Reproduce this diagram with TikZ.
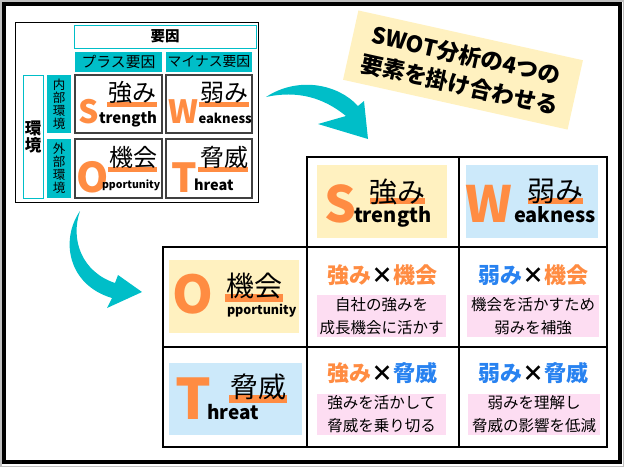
\documentclass[tikz,border=0pt]{standalone}
\usepackage{fontspec}
\setmainfont{Noto Sans CJK JP}
\definecolor{tealc}{RGB}{0,190,200}
\definecolor{orangec}{RGB}{255,140,66}
\definecolor{bluec}{RGB}{40,130,240}
\definecolor{yelc}{RGB}{255,241,192}
\definecolor{lbluec}{RGB}{204,233,250}
\definecolor{pinkc}{RGB}{253,221,242}
\newcommand\fsz[1]{\fontsize{#1}{#1}\selectfont}
\newcommand\fszl[2]{\fontsize{#1}{#2}\selectfont}
\begin{document}
\begin{tikzpicture}[x=1pt,y=-1pt,
  every node/.style={inner sep=0pt,outer sep=0pt},
  rct/.style n args={2}{minimum width=#1,minimum height=#2,anchor=north west},
  smcell/.style={draw=black!75,line width=1.2pt},
  gcell/.style={draw=black,line width=2.5pt},
  ulbar/.style={fill=orangec},
  big/.style={font=\bfseries\fsz{#1},text=orangec,anchor=base west},
  eng/.style={font=\bfseries\fsz{#1},anchor=base west},
  jpl/.style={font=\fsz{#1}},
  ttlc/.style={font=\bfseries\fsz{22}},
  pinkbox/.style={fill=pinkc,align=center,font=\fszl{15.5}{23}}
]
\useasboundingbox (0,0) rectangle (624,467);
% frame
\draw[black!25, line width=1.5pt] (0.75,0.75) rectangle (623.25,466.25);
\draw[line width=4pt] (3.7,3.7) rectangle (620,462);

% ---------- small table ----------
\node[draw=black, line width=0.9pt, rct={243pt}{180pt}] (smt) at (15,22) {};
\node[draw=tealc, line width=1pt, rct={182pt}{23pt}, font=\bfseries\fsz{14.5}] (yoin) at (74,25) {要因};
\node[fill=tealc, rct={87pt}{20pt}, font=\fsz{14.8}] (plus) at (75,52) {プラス要因};
\node[fill=tealc, rct={86pt}{20pt}, font=\fsz{13.8}] (minus) at (166,52) {マイナス要因};
\node[draw=tealc, line width=1pt, rct={20pt}{123pt}] (kankyo) at (23,75) {};
\node[font=\bfseries\fszl{16.5}{17}, align=center] (kankyoT) at (33,137) {環\\境};
\node[fill=tealc, rct={24pt}{58pt}] (naibu) at (47,75) {};
\node[font=\fszl{12.5}{13}, align=center] (naibuT) at (naibu.center) {内\\部\\環\\境};
\node[fill=tealc, rct={24pt}{59pt}] (gaibu) at (47,139) {};
\node[font=\fszl{12.5}{13}, align=center] (gaibuT) at (gaibu.center) {外\\部\\環\\境};

\node[smcell, rct={87pt}{58pt}] (sS) at (75,75) {};
\node[ulbar, rct={50pt}{5pt}] (sSu) at (107,102) {};
\node[jpl=24] (sSj) at (132,92.5) {強み};
\node[big=32] (sSl) at (78,123) {S};
\node[eng=15] (sSe) at (99,123) {trength};

\node[smcell, rct={86pt}{58pt}] (sW) at (166,75) {};
\node[ulbar, rct={50pt}{5pt}] (sWu) at (199,102) {};
\node[jpl=24] (sWj) at (224,92.5) {弱み};
\node[big=32] (sWl) at (168,123) {W};
\node[eng=13] (sWe) at (198.5,123) {eakness};

\node[smcell, rct={87pt}{59pt}] (sO) at (75,139) {};
\node[ulbar, rct={49pt}{5pt}] (sOu) at (108,167) {};
\node[jpl=24] (sOj) at (133,157) {機会};
\node[big=41] (sOl) at (76,192) {O};
\node[eng=10.5] (sOe) at (102,188) {pportunity};

\node[smcell, rct={86pt}{59pt}] (sT) at (166,139) {};
\node[ulbar, rct={50pt}{5pt}] (sTu) at (198,167) {};
\node[jpl=24] (sTj) at (224,157) {脅威};
\node[big=40] (sTl) at (171,192) {T};
\node[eng=14.5] (sTe) at (194,190) {hreat};

% ---------- title ----------
\node[fill=yelc, minimum width=230pt, minimum height=71pt, rotate=-12.5, align=center,
      font=\bfseries\fszl{22.5}{30}] (ttl) at (463,70) {SWOT分析の4つの\\要素を掛け合わせる};

% ---------- arrows ----------
\fill[tealc] (80,211) .. controls (70,240) and (82,272) .. (115,283) -- (118,275) -- (142,292)
  -- (107,308) -- (112,298) .. controls (68,285) and (60,240) .. (80,211) -- cycle;
\fill[tealc] (266,97) .. controls (298,76) and (338,84) .. (358,106) -- (364,101) -- (368,139)
  -- (318,124) -- (346,116) .. controls (324,98) and (298,90) .. (266,97) -- cycle;

% ---------- big grid ----------
\node[gcell, rct={152pt}{90pt}] (hS) at (307,157) {};
\node[gcell, rct={148pt}{90pt}] (hW) at (459,157) {};
\node[gcell, rct={144pt}{100pt}] (lO) at (163,247) {};
\node[gcell, rct={152pt}{100pt}] (cSO) at (307,247) {};
\node[gcell, rct={148pt}{100pt}] (cWO) at (459,247) {};
\node[gcell, rct={144pt}{100pt}] (lT) at (163,347) {};
\node[gcell, rct={152pt}{100pt}] (cST) at (307,347) {};
\node[gcell, rct={148pt}{100pt}] (cWT) at (459,347) {};

% header S
\node[fill=yelc, rct={130pt}{73pt}] (hSf) at (317,165) {};
\node[ulbar, rct={55pt}{6pt}] (hSu) at (370,198) {};
\node[jpl=28] (hSj) at (397.5,191.5) {強み};
\node[big=50] (hSl) at (324,222) {S};
\node[eng=20] (hSe) at (354,222) {trength};
% header W
\node[fill=lbluec, rct={132pt}{73pt}] (hWf) at (466,165) {};
\node[ulbar, rct={55pt}{6pt}] (hWu) at (528,198) {};
\node[jpl=28] (hWj) at (555.5,191.5) {弱み};
\node[big=50] (hWl) at (465,222) {W};
\node[eng=20] (hWe) at (514,222) {eakness};
% label O
\node[fill=yelc, rct={130pt}{73pt}] (lOf) at (169,260) {};
\node[ulbar, rct={58pt}{8pt}] (lOu) at (225,294) {};
\node[jpl=28] (lOj) at (254,285.5) {機会};
\node[big=52] (lOl) at (172,313) {O};
\node[eng=12.5] (lOe) at (227,314) {pportunity};
% label T
\node[fill=lbluec, rct={133pt}{72pt}] (lTf) at (169,363) {};
\node[ulbar, rct={58pt}{8pt}] (lTu) at (229,395) {};
\node[jpl=28] (lTj) at (258,386.5) {脅威};
\node[big=56] (lTl) at (175,419) {T};
\node[eng=19] (lTe) at (207,419) {hreat};

% combinations
\node[ttlc] (tSO) at (382.5,275) {\textcolor{orangec}{強み}×\textcolor{orangec}{機会}};
\node[ttlc] (tWO) at (533,275) {\textcolor{bluec}{弱み}×\textcolor{orangec}{機会}};
\node[ttlc] (tST) at (382.5,373) {\textcolor{orangec}{強み}×\textcolor{bluec}{脅威}};
\node[ttlc] (tWT) at (533,373) {\textcolor{bluec}{弱み}×\textcolor{bluec}{脅威}};
\node[pinkbox, rct={129pt}{42pt}] (pSO) at (317,295) {自社の強みを\\成長機会に活かす};
\node[pinkbox, rct={132pt}{42pt}] (pWO) at (467,295) {機会を活かすため\\弱みを補強};
\node[pinkbox, rct={129pt}{41pt}] (pST) at (317,394) {強みを活かして\\脅威を乗り切る};
\node[pinkbox, rct={132pt}{41pt}] (pWT) at (468,394) {弱みを理解し\\脅威の影響を低減};
\end{tikzpicture}
\end{document}
